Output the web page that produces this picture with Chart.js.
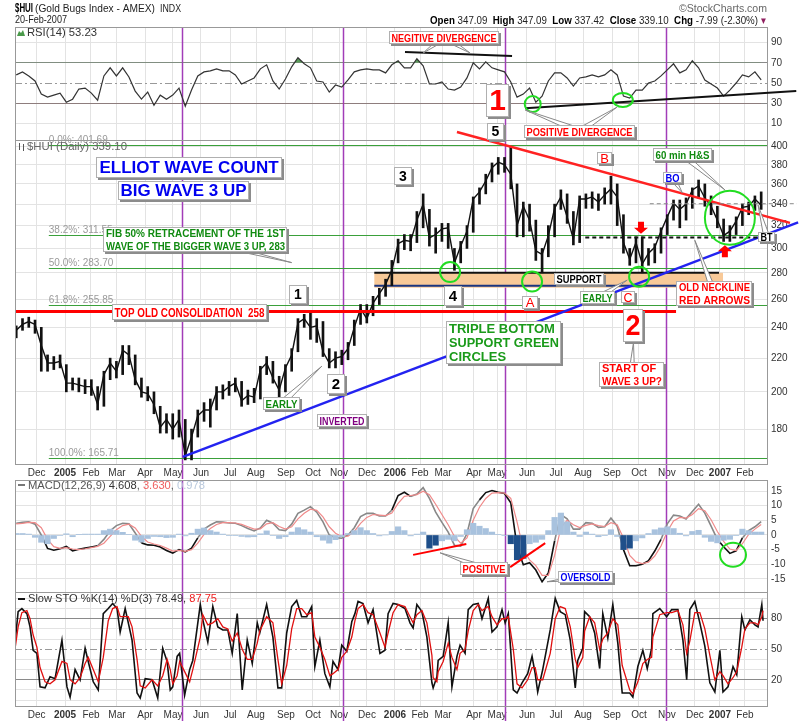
<!DOCTYPE html>
<html>
<head>
<meta charset="utf-8">
<script src="https://cdn.jsdelivr.net/npm/chart.js@4.4.1/dist/chart.umd.min.js"></script>
<style>
  body { margin: 0; background: #fff; }
  #wrap { position: relative; width: 800px; height: 721px; overflow: hidden; background: #fff; }
  #wrap canvas { position: absolute; left: 0; top: 0; }
</style>
</head>
<body>
<div id="wrap">
  <canvas id="rsiChart" width="800" height="721"></canvas>
  <canvas id="priceChart" width="800" height="721"></canvas>
  <canvas id="macdChart" width="800" height="721"></canvas>
  <canvas id="stoChart" width="800" height="721"></canvas>
</div>
<script>
const FONT = '"Liberation Sans", Arial, sans-serif';
const NARROW = '"Liberation Sans Narrow", "Liberation Sans", Arial, sans-serif';

// x axis counts weeks from Mon 8 Nov 2004 (week 119 = 20 Feb 2007)
const xMin = -0.2;
const xMax = 119.93;
const monthWeeks = [3.27, 7.79, 11.94, 16.09, 20.57, 25.04, 29.51, 34.15, 38.3, 43.09, 47.4, 51.56, 56.03, 60.5,
  64.5, 68.17, 73.12, 76.8, 81.59, 86.22, 90.54, 95.17, 99.48, 103.95, 108.42, 112.42, 116.4];
const monthLabels = ["Dec", "2005", "Feb", "Mar", "Apr", "May", "Jun", "Jul", "Aug", "Sep", "Oct", "Nov", "Dec", "2006",
  "Feb", "Mar", "Apr", "May", "Jun", "Jul", "Aug", "Sep", "Oct", "Nov", "Dec", "2007", "Feb"];
const yearLabels = ["2005", "2006", "2007"];
const cycleWeeks = [26.5, 52.2, 78.1, 103.8];

// weekly price bars
const priceClose = [238, 242, 244, 242, 228, 217, 217, 218, 205, 205,
  204, 203, 203, 193, 210, 217, 212, 225, 222, 207,
  200, 199, 193, 181, 185, 180, 185, 167, 176, 187,
  190, 190, 200, 200, 203, 205, 195, 198, 197, 213,
  217, 208, 201, 214, 222, 243, 246, 240, 241, 224,
  217, 220, 221, 226, 240, 253, 246, 257, 264, 271,
  282, 304, 307, 306, 325, 340, 309, 312, 317, 318,
  288, 302, 315, 345, 352, 363, 377, 383, 380, 370,
  320, 338, 325, 298, 295, 311, 336, 347, 328, 308,
  345, 345, 347, 342, 349, 355, 347, 305, 291, 305,
  287, 296, 301, 315, 328, 341, 335, 340, 354, 358,
  346, 338, 325, 311, 315, 324, 337, 338, 345, 339];
const priceHigh = [241, 246, 247, 245, 240, 222, 221, 222, 216, 208,
  208, 207, 207, 203, 212, 220, 218, 228, 228, 222,
  208, 203, 200, 192, 188, 188, 190, 185, 180, 190,
  194, 196, 203, 204, 206, 208, 206, 201, 202, 215,
  221, 218, 209, 216, 226, 246, 249, 251, 246, 244,
  226, 224, 225, 230, 245, 256, 256, 262, 268, 275,
  290, 308, 312, 312, 333, 350, 335, 318, 322, 322,
  300, 306, 320, 347, 356, 370, 382, 388, 388, 400,
  360, 342, 340, 325, 300, 320, 340, 354, 350, 333,
  348, 350, 352, 350, 356, 368, 360, 330, 300, 310,
  310, 300, 304, 318, 330, 344, 344, 346, 356, 364,
  360, 348, 338, 326, 320, 328, 340, 342, 348, 352];
const priceLow = [233, 238, 240, 236, 212, 212, 213, 214, 200, 201,
  200, 199, 198, 190, 192, 207, 208, 210, 216, 204,
  197, 195, 188, 178, 178, 175, 176, 165, 165, 176,
  184, 181, 190, 196, 198, 200, 192, 193, 194, 196,
  210, 205, 196, 200, 212, 224, 240, 232, 230, 221,
  214, 214, 216, 219, 228, 242, 243, 248, 256, 262,
  270, 288, 299, 298, 305, 318, 302, 296, 306, 300,
  282, 288, 300, 314, 340, 350, 362, 370, 372, 355,
  310, 310, 315, 290, 280, 293, 310, 335, 322, 303,
  305, 336, 336, 334, 340, 340, 320, 296, 286, 288,
  280, 286, 288, 296, 312, 325, 318, 325, 336, 346,
  338, 330, 318, 306, 306, 312, 320, 330, 334, 335];
const weekIndex = priceClose.map((_, i) => i);

const rsiValues = [58, 61, 57, 52, 39, 36, 38, 40, 31, 34,
  44, 45, 40, 33, 57, 65, 57, 65, 56, 42,
  34, 41, 28, 38, 34, 38, 45, 27, 43, 57,
  61, 62, 64, 62, 62, 58, 49, 52, 55, 64,
  68, 52, 44, 54, 66, 75, 69, 65, 52, 51,
  41, 48, 46, 53, 61, 63, 64, 63, 63, 60,
  68, 72, 65, 65, 74, 67, 49, 49, 51, 44,
  43, 46, 55, 70, 64, 71, 65, 63, 61, 51,
  36, 39, 45, 31, 37, 52, 60, 60, 55, 47,
  55, 56, 58, 56, 58, 63, 58, 37, 35, 43,
  43, 50, 52, 57, 63, 69, 60, 63, 72, 65,
  53, 49, 45, 37, 43, 50, 58, 56, 61, 53];

const macdValues = [4.0, 4.3, 4.5, 3.7, 0.0, -4.6, -5.2, -4.7, -3.9, -5.4,
  -4.9, -4.5, -4.1, -3.7, -1.5, 1.4, 3.2, 4.0, 3.8, 0.7,
  -2.7, -3.4, -3.5, -4.1, -5.3, -6.2, -5.0, -5.8, -4.5, -1.0,
  2.0, 3.4, 4.5, 4.4, 4.1, 4.0, 3.2, 2.2, 1.4, 2.4,
  5.0, 4.0, 1.8, 1.5, 3.7, 7.4, 8.5, 9.7, 7.8, 4.5,
  0.0, -0.9, -1.1, 0.0, 2.5, 6.3, 7.4, 7.4, 6.5, 6.5,
  8.5, 13.5, 14.6, 13.2, 14.0, 16.2, 12.5, 7.8, 4.3, 1.0,
  -3.5, -3.8, 0.5, 9.0, 12.0, 14.5, 15.2, 14.6, 14.2, 11.0,
  -4.0, -10.2, -9.5, -12.0, -16.0, -13.0, -2.0, 7.0, 5.5, 2.0,
  2.0, 4.2, 4.0, 2.6, 2.8, 5.8, 3.0, -5.0, -10.5, -10.5,
  -10.0, -8.8, -5.5, -1.5, 3.8, 6.8, 6.5, 5.5, 8.0, 10.5,
  7.5, 3.0, -1.5, -4.0, -6.3, -5.4, -1.0, 1.5, 2.8, 4.6];
const signalValues = [3.8, 4.0, 4.3, 4.2, 2.5, -1.5, -4.0, -4.6, -4.3, -4.8,
  -5.0, -4.7, -4.3, -3.9, -2.8, -0.5, 1.8, 3.2, 3.7, 2.4,
  -0.5, -2.4, -3.1, -3.6, -4.5, -5.5, -5.3, -5.6, -5.0, -2.8,
  0.2, 2.2, 3.6, 4.2, 4.2, 4.1, 3.6, 2.8, 2.0, 2.1,
  3.8, 4.2, 2.9, 2.0, 2.8, 5.5, 7.4, 8.8, 8.4, 6.2,
  2.8, 0.6, -0.5, -0.4, 1.2, 4.0, 6.0, 7.0, 6.8, 6.6,
  7.5, 10.8, 13.2, 13.5, 13.8, 15.0, 13.8, 10.5, 7.0, 3.5,
  -0.5, -2.8, -1.0, 5.0, 9.5, 12.5, 14.3, 14.5, 14.3, 12.5,
  4.5, -5.0, -8.5, -10.5, -13.8, -13.8, -7.0, 2.5, 5.0, 3.5,
  2.5, 3.3, 3.8, 3.2, 2.9, 4.2, 3.5, -1.0, -7.0, -9.2,
  -9.8, -9.3, -7.2, -3.8, 1.2, 4.8, 6.0, 5.8, 7.0, 9.0,
  8.3, 5.2, 1.2, -2.2, -4.8, -5.3, -3.0, 0.2, 2.0, 3.6];
const histValues = [0.5, 0.5, 0.3, -0.8, -2.5, -3.0, -1.2, -0.2, 0.4, -0.6,
  0.1, 0.3, 0.3, 0.3, 1.5, 2.0, 1.5, 0.9, 0.2, -1.8,
  -2.4, -1.2, -0.5, -0.6, -0.9, -0.8, 0.3, -0.3, 0.6, 2.0,
  2.4, 1.5, 1.0, 0.3, -0.1, -0.1, -0.5, -0.7, -0.6, 0.4,
  1.4, -0.2, -1.2, -0.6, 1.0, 2.5, 1.8, 1.0, -0.6, -1.8,
  -2.8, -1.6, -0.6, 0.5, 1.5, 2.5, 1.5, 0.5, -0.3, 0.0,
  1.2, 2.8, 1.5, -0.3, 0.3, 1.0, -4.5, -3.5, -2.0, -1.5,
  -2.0, -0.5, 1.8, 4.0, 3.0, 2.2, 1.0, 0.2, -0.2, -3.0,
  -8.5, -8.0, -3.0, -2.5, -1.5, 1.5, 6.0, 7.5, 4.5, 1.0,
  -0.5, 1.0, 0.3, -0.6, -0.1, 1.8, -0.5, -5.0, -4.5, -2.0,
  -1.0, 0.5, 1.8, 2.4, 2.8, 2.2, 0.6, -0.3, 1.2, 1.6,
  -0.8, -2.2, -2.7, -1.8, -1.5, -0.1, 2.0, 1.5, 1.0, 1.0];
const darkHistWeeks = [66, 67, 79, 80, 81, 97, 98];
const macdDarkSpans = [[4, 13], [20, 29], [60, 63], [74, 86], [97, 103], [112, 116]];

// slow stochastic, read at the turning points of the daily line
const stoDates = [-0.2, 0.3, 0.9, 1.7, 2.2, 2.7, 3.3, 3.8, 4.6, 5.4,
  6.2, 7.3, 8.1, 8.6, 9.4, 10.2, 11.0, 11.5, 12.3, 13.1,
  13.9, 14.7, 15.4, 16.1, 16.6, 17.4, 17.9, 18.5, 19.3, 19.8,
  20.6, 21.7, 22.6, 23.4, 24.1, 24.6, 25.0, 25.7, 26.1, 26.9,
  27.7, 28.2, 29.4, 29.8, 30.6, 31.4, 32.2, 33.0, 33.8, 34.5,
  35.3, 36.1, 36.9, 37.7, 38.5, 38.9, 40.0, 41.0, 41.8, 42.4,
  43.2, 44.0, 44.8, 45.6, 46.4, 47.2, 47.7, 48.5, 49.3, 50.1,
  50.6, 51.4, 52.0, 52.8, 53.6, 54.1, 54.6, 55.4, 56.2, 57.0,
  58.1, 58.9, 59.4, 60.2, 61.0, 62.1, 62.9, 63.4, 64.0, 64.8,
  65.6, 66.4, 66.6, 67.2, 67.4, 68.2, 69.0, 69.6, 70.4, 70.9,
  71.7, 72.2, 73.0, 73.8, 74.4, 75.4, 76.0, 76.8, 77.6, 78.1,
  78.6, 79.4, 80.0, 80.8, 81.7, 82.4, 82.9, 83.3, 84.1, 85.3,
  86.1, 86.9, 87.7, 88.5, 89.3, 89.7, 90.5, 90.8, 91.6, 92.4,
  93.2, 93.7, 94.5, 95.3, 96.1, 96.8, 98.0, 98.5, 99.3, 100.1,
  100.8, 101.5, 101.7, 102.8, 103.9, 104.7, 105.7, 106.5, 107.1, 107.6,
  108.4, 109.2, 110.0, 110.8, 111.6, 112.4, 112.9, 113.7, 114.5, 115.1,
  115.9, 116.4, 117.2, 118.0, 118.5, 119.1, 119.3];
const stoK = [56, 87, 90, 85, 72, 49, 46, 13, 12, 23,
  21, 59, 13, 3, 30, 20, 51, 38, 18, 10,
  85, 90, 95, 90, 67, 90, 76, 59, 7, 2,
  21, 20, 2, 51, 38, 10, 13, 43, 46, 5,
  30, 39, 94, 79, 57, 92, 72, 69, 69, 46,
  85, 10, 59, 36, 76, 66, 94, 62, 12, 12,
  66, 92, 98, 82, 82, 92, 33, 59, 26, 13,
  38, 30, 54, 48, 77, 85, 97, 95, 76, 89,
  46, 49, 85, 95, 94, 90, 76, 71, 94, 87,
  62, 17, 12, 23, 39, 43, 76, 13, 43, 54,
  46, 89, 94, 95, 80, 100, 67, 72, 89, 76,
  85, 10, 7, 17, 26, 43, 26, 8, 30, 69,
  100, 87, 84, 59, 12, 39, 51, 87, 82, 66,
  31, 85, 61, 94, 56, 7, 7, 3, 33, 49,
  31, 51, 85, 90, 82, 89, 89, 59, 20, 89,
  97, 76, 53, 17, 8, 49, 8, 13, 33, 25,
  82, 69, 79, 74, 72, 94, 78];
const stoD = [50, 72, 86, 88, 80, 64, 52, 32, 18, 16,
  20, 38, 36, 20, 16, 22, 36, 42, 30, 18,
  42, 78, 90, 92, 82, 82, 82, 72, 40, 14,
  12, 20, 14, 24, 40, 30, 16, 24, 38, 28,
  18, 30, 62, 84, 74, 76, 80, 72, 70, 58,
  66, 50, 40, 40, 56, 68, 82, 76, 40, 16,
  34, 70, 90, 90, 84, 86, 62, 52, 40, 24,
  26, 30, 42, 48, 62, 78, 90, 94, 86, 84,
  66, 52, 66, 86, 94, 92, 82, 76, 84, 88,
  76, 44, 22, 18, 28, 38, 56, 42, 30, 46,
  50, 68, 88, 94, 88, 92, 82, 74, 80, 80,
  82, 50, 16, 12, 20, 32, 32, 20, 20, 46,
  80, 92, 90, 72, 40, 32, 42, 68, 82, 76,
  50, 60, 66, 80, 74, 34, 10, 6, 18, 36,
  40, 42, 62, 84, 86, 86, 88, 74, 46, 58,
  86, 86, 70, 44, 20, 28, 24, 16, 22, 28,
  52, 70, 76, 76, 74, 82, 88];

const fibLevels = [401.69, 311.55, 283.7, 255.85, 165.71];
const fibLabels = ["0.0%: 401.69", "38.2%: 311.55", "50.0%: 283.70", "61.8%: 255.85", "100.0%: 165.71"];
const fibStartWeek = 5.2;

const rsiTicks = [10, 30, 50, 70, 90];
const priceTicks = [180, 200, 220, 240, 260, 280, 300, 320, 340, 360, 380, 400];
const macdTicks = [-15, -10, -5, 0, 5, 10, 15];
const stoGrid = [0, 10, 20, 30, 40, 50, 60, 70, 80, 90, 100];
const stoTicks = [20, 50, 80];

const pts = (xs, ys) => xs.map((x, i) => ({ x, y: ys[i] }));
const toPx = (chart, p) => ({ x: chart.scales.x.getPixelForValue(p[0]), y: chart.scales.y.getPixelForValue(p[1]) });

const xAxis = (showLabels) => ({
  type: "linear",
  min: xMin,
  max: xMax,
  offset: false,
  afterBuildTicks: (s) => { s.ticks = monthWeeks.map((value) => ({ value })); },
  afterFit: (s) => { s.height = showLabels ? 15 : 0; },
  grid: { color: "#e3e3e3", drawTicks: false, offset: false },
  border: { display: false },
  ticks: {
    display: showLabels,
    autoSkip: false,
    maxRotation: 0,
    padding: 3,
    color: "#333",
    font: (c) => ({ family: FONT, size: 10, weight: yearLabels.includes(monthLabels[c.index]) ? "bold" : "normal" }),
    callback: (v, i) => monthLabels[i],
  },
});

const yAxis = (o) => ({
  type: o.type || "linear",
  position: "right",
  min: o.min,
  max: o.max,
  afterBuildTicks: (s) => { s.ticks = o.grid.map((value) => ({ value })); },
  afterFit: (s) => { s.width = 33; },
  grid: {
    drawTicks: false,
    color: (c) => {
      const v = c.tick && c.tick.value;
      if ((o.hidden || []).includes(v)) return "rgba(0,0,0,0)";
      return (o.strong || []).includes(v) ? "#8a8a8a" : "#e3e3e3";
    },
  },
  border: { display: true, color: "#999" },
  ticks: {
    padding: 4,
    autoSkip: false,
    color: "#333",
    font: { family: FONT, size: 10 },
    callback: (v) => (o.labels.includes(v) ? String(v) : ""),
  },
});

const baseOptions = (top, bottom, x, y) => ({
  responsive: false,
  animation: false,
  devicePixelRatio: 1,
  events: [],
  layout: { padding: { left: 15, right: 0, top, bottom } },
  plugins: { legend: { display: false }, tooltip: { enabled: false } },
  scales: { x, y },
});

const drawPointer = (ctx, from, to) => {
  const dx = to.x - from.x;
  const dy = to.y - from.y;
  const len = Math.hypot(dx, dy) || 1;
  const nx = (-dy / len) * 3;
  const ny = (dx / len) * 3;
  ctx.beginPath();
  ctx.moveTo(from.x + nx, from.y + ny);
  ctx.lineTo(to.x, to.y);
  ctx.lineTo(from.x - nx, from.y - ny);
  ctx.closePath();
  ctx.fillStyle = "#fff";
  ctx.fill();
  ctx.strokeStyle = "#888";
  ctx.lineWidth = 1;
  ctx.stroke();
};

const drawNote = (ctx, c, n) => {
  const x = Math.round(c.x - n.bw / 2);
  const y = Math.round(c.y - n.bh / 2);
  ctx.fillStyle = "#8c8c8c";
  ctx.fillRect(x + 2, y + 2, n.bw, n.bh);
  ctx.fillStyle = "#fff";
  ctx.fillRect(x, y, n.bw, n.bh);
  ctx.strokeStyle = "#b0b0b0";
  ctx.lineWidth = 1;
  ctx.strokeRect(x + 0.5, y + 0.5, n.bw - 1, n.bh - 1);
  ctx.fillStyle = n.color;
  ctx.font = `${n.weight || "bold"} ${n.size}px ${n.narrow ? NARROW : FONT}`;
  ctx.textBaseline = "middle";
  ctx.textAlign = n.align === "left" ? "left" : "center";
  const lh = n.bh / n.lines.length;
  const tx = n.align === "left" ? x + 3 : x + n.bw / 2;
  n.lines.forEach((t, i) => ctx.fillText(t, tx, y + lh * (i + 0.5) + 1, n.bw - 5));
};

const drawArrow = (ctx, c, dir) => {
  const s = 6 * dir;
  ctx.beginPath();
  ctx.moveTo(c.x - 3, c.y - s);
  ctx.lineTo(c.x + 3, c.y - s);
  ctx.lineTo(c.x + 3, c.y);
  ctx.lineTo(c.x + 7, c.y);
  ctx.lineTo(c.x, c.y + s);
  ctx.lineTo(c.x - 7, c.y);
  ctx.lineTo(c.x - 3, c.y);
  ctx.closePath();
  ctx.fillStyle = "#f00";
  ctx.fill();
};

const drawMarkup = (chart, spec) => {
  const { ctx } = chart;
  const P = (p) => toPx(chart, p);
  (spec.lines || []).forEach((l) => {
    const a = P(l.from);
    const b = P(l.to);
    ctx.strokeStyle = l.color;
    ctx.lineWidth = l.width;
    ctx.setLineDash(l.dash || []);
    ctx.beginPath();
    ctx.moveTo(a.x, a.y);
    ctx.lineTo(b.x, b.y);
    ctx.stroke();
  });
  ctx.setLineDash([]);
  (spec.circles || []).forEach((c) => {
    const p = P(c.at);
    ctx.strokeStyle = "#22dd22";
    ctx.lineWidth = 2;
    ctx.beginPath();
    ctx.ellipse(p.x, p.y, c.rx, c.ry, 0, 0, Math.PI * 2);
    ctx.stroke();
  });
  (spec.arrows || []).forEach((a) => drawArrow(ctx, P(a.at), a.dir));
  (spec.notes || []).forEach((n) => (n.pointers || []).forEach((t) => drawPointer(ctx, P(n.at), P(t))));
  (spec.notes || []).forEach((n) => drawNote(ctx, P(n.at), n));
};

// text runs squeezed into a target width
const drawRuns = (ctx, x, y, runs, size, width) => {
  let total = 0;
  runs.forEach((r) => {
    ctx.font = `${r.bold ? "bold " : ""}${size}px ${FONT}`;
    total += ctx.measureText(r.text).width;
  });
  ctx.save();
  ctx.translate(x, y);
  ctx.scale(width ? width / total : 1, 1);
  ctx.textAlign = "left";
  ctx.textBaseline = "alphabetic";
  let cx = 0;
  runs.forEach((r) => {
    ctx.font = `${r.bold ? "bold " : ""}${size}px ${FONT}`;
    ctx.fillStyle = r.color || "#000";
    ctx.fillText(r.text, cx, 0);
    cx += ctx.measureText(r.text).width;
  });
  ctx.restore();
};

const panelPlugin = (cfg) => ({
  id: "panel",
  beforeDatasetsDraw(chart) {
    const { ctx, chartArea: a, scales } = chart;
    ctx.save();
    (cfg.dashLevels || []).forEach((v) => {
      const y = Math.round(scales.y.getPixelForValue(v)) + 0.5;
      ctx.strokeStyle = "#999";
      ctx.lineWidth = 1;
      ctx.setLineDash([7, 3, 2, 3]);
      ctx.beginPath();
      ctx.moveTo(a.left, y);
      ctx.lineTo(a.right, y);
      ctx.stroke();
    });
    ctx.setLineDash([]);
    cycleWeeks.forEach((w) => {
      const x = Math.round(scales.x.getPixelForValue(w)) + 0.5;
      ctx.strokeStyle = "#a23cb8";
      ctx.lineWidth = 1.5;
      ctx.beginPath();
      ctx.moveTo(x, a.top);
      ctx.lineTo(x, a.bottom + cfg.cycleExtra);
      ctx.stroke();
    });
    if (cfg.under) cfg.under(chart);
    ctx.restore();
  },
  afterDraw(chart) {
    const { ctx, chartArea: a } = chart;
    ctx.save();
    ctx.strokeStyle = "#999";
    ctx.lineWidth = 1;
    ctx.strokeRect(a.left + 0.5, a.top + 0.5, a.right - a.left, a.bottom - a.top);
    if (cfg.over) cfg.over(chart);
    ctx.restore();
  },
});

// ---------- RSI panel ----------
const rsiMarkup = {
  lines: [
    { from: [62.1, 80.7], to: [79.2, 76.7], color: "#111", width: 2 },
    { from: [81.3, 25.0], to: [124.6, 42.1], color: "#111", width: 2 },
  ],
  circles: [
    { at: [82.5, 29.2], rx: 8, ry: 8 },
    { at: [96.9, 33.2], rx: 10, ry: 7 },
  ],
  notes: [
    { at: [68.4, 95.0], bw: 110, bh: 13, lines: ["NEGITIVE DIVERGENCE"], color: "#f00", size: 11, narrow: true,
      pointers: [[65.0, 79.7], [72.5, 79.7]] },
    { at: [90.0, 2.5], bw: 111, bh: 13, lines: ["POSITIVE DIVERGENCE"], color: "#f00", size: 11, narrow: true,
      pointers: [[81.3, 23.3], [96.0, 26.2]] },
    { at: [76.9, 32.2], bw: 23, bh: 33, lines: ["1"], color: "#f00", size: 30 },
  ],
};

new Chart(document.getElementById("rsiChart"), {
  type: "line",
  data: {
    datasets: [
      { data: pts(weekIndex, rsiValues), borderColor: "#333", borderWidth: 1.2, pointRadius: 0,
        fill: { target: { value: 70 }, above: "#5a9e5a", below: "rgba(0,0,0,0)" } },
      { data: pts(weekIndex, rsiValues), borderWidth: 0, pointRadius: 0,
        fill: { target: { value: 30 }, above: "rgba(0,0,0,0)", below: "#a04848" } },
    ],
  },
  options: baseOptions(27, 581, xAxis(false),
    yAxis({ min: -6.4, max: 105.4, grid: rsiTicks, labels: rsiTicks, strong: [30, 70], hidden: [50] })),
  plugins: [panelPlugin({
    cycleExtra: 0,
    dashLevels: [50],
    over: (chart) => {
      const { ctx, chartArea: a } = chart;
      drawMarkup(chart, rsiMarkup);
      // page header
      drawRuns(ctx, 15, 12, [{ text: "$HUI", bold: true }], 13, 18);
      drawRuns(ctx, 35, 12, [{ text: "(Gold Bugs Index - AMEX)", color: "#222" }], 11, 120);
      drawRuns(ctx, 160, 12, [{ text: "INDX", color: "#222" }], 10, 21);
      drawRuns(ctx, 15, 23, [{ text: "20-Feb-2007", color: "#222" }], 11, 52);
      drawRuns(ctx, 679, 12, [{ text: "\u00a9StockCharts.com", color: "#666" }], 11, 88);
      drawRuns(ctx, 430, 24, [
        { text: "Open", bold: true }, { text: " 347.09  ", color: "#222" },
        { text: "High", bold: true }, { text: " 347.09  ", color: "#222" },
        { text: "Low", bold: true }, { text: " 337.42  ", color: "#222" },
        { text: "Close", bold: true }, { text: " 339.10  ", color: "#222" },
        { text: "Chg", bold: true }, { text: " -7.99 (-2.30%) ", color: "#222" },
        { text: "\u25be", color: "#902060" },
      ], 11, 336);
      // legend
      ctx.beginPath();
      ctx.moveTo(a.left + 2, a.top + 9);
      ctx.lineTo(a.left + 4, a.top + 4);
      ctx.lineTo(a.left + 6, a.top + 6);
      ctx.lineTo(a.left + 8, a.top + 3);
      ctx.lineTo(a.left + 10, a.top + 9);
      ctx.closePath();
      ctx.fillStyle = "#4a9a4a";
      ctx.fill();
      drawRuns(ctx, a.left + 12, a.top + 9, [{ text: "RSI(14) 53.23", color: "#333" }], 11, 70);
    },
  })],
});

// ---------- price panel ----------
const priceMarkup = {
  lines: [
    { from: [-0.04, 251], to: [105.4, 251], color: "#f00", width: 3 },
    { from: [70.4, 417], to: [123.6, 322.5], color: "#f22", width: 2.5 },
    { from: [26.6, 166.4], to: [124.9, 322.9], color: "#2323f0", width: 2.5 },
    { from: [90.9, 309.5], to: [118.8, 309.5], color: "#111", width: 2, dash: [4, 3] },
    { from: [101.2, 340.4], to: [124.7, 340.4], color: "#888", width: 1, dash: [4, 3] },
  ],
  circles: [
    { at: [69.3, 280.6], rx: 10, ry: 10 },
    { at: [82.4, 273.2], rx: 10, ry: 10 },
    { at: [99.5, 277.0], rx: 10, ry: 10 },
    { at: [114.0, 327.2], rx: 25, ry: 27 },
  ],
  arrows: [
    { at: [99.8, 318.1], dir: 1 },
    { at: [113.2, 297.7], dir: -1 },
  ],
  notes: [
    { at: [27.6, 377.2], bw: 186, bh: 21, lines: ["ELLIOT WAVE COUNT"], color: "#0000f0", size: 17 },
    { at: [26.7, 353.5], bw: 131, bh: 19, lines: ["BIG WAVE 3 UP"], color: "#0000f0", size: 17 },
    { at: [28.6, 308.0], bw: 184, bh: 25, lines: ["FIB 50% RETRACEMENT OF THE 1ST", "WAVE OF THE BIGGER WAVE 3 UP, 283"],
      color: "#108a10", size: 11, narrow: true, align: "left", pointers: [[44.0, 288.2]] },
    { at: [27.7, 250.7], bw: 155, bh: 16, lines: ["TOP OLD CONSOLIDATION  258"], color: "#f00", size: 13 },
    { at: [45.0, 263.4], bw: 18, bh: 19, lines: ["1"], color: "#000", size: 14 },
    { at: [51.1, 204.4], bw: 18, bh: 20, lines: ["2"], color: "#000", size: 15 },
    { at: [61.8, 368.3], bw: 18, bh: 18, lines: ["3"], color: "#000", size: 14 },
    { at: [69.8, 261.9], bw: 18, bh: 20, lines: ["4"], color: "#000", size: 15 },
    { at: [76.5, 418.1], bw: 17, bh: 17, lines: ["5"], color: "#000", size: 14 },
    { at: [82.1, 257.5], bw: 16, bh: 13, lines: ["A"], color: "#f00", size: 13, weight: "normal" },
    { at: [94.0, 386.9], bw: 15, bh: 12, lines: ["B"], color: "#f00", size: 13, weight: "normal" },
    { at: [97.7, 261.5], bw: 14, bh: 12, lines: ["C"], color: "#f00", size: 13, weight: "normal" },
    { at: [98.3, 209.9], bw: 65, bh: 25, lines: ["START OF", "WAVE 3 UP?"], color: "#f00", size: 11, narrow: true,
      align: "left", pointers: [[98.6, 230.0]] },
    { at: [98.5, 241.0], bw: 20, bh: 33, lines: ["2"], color: "#f00", size: 30 },
    { at: [89.9, 275.5], bw: 50, bh: 12, lines: ["SUPPORT"], color: "#000", size: 11, narrow: true },
    { at: [92.9, 260.9], bw: 35, bh: 13, lines: ["EARLY"], color: "#108a10", size: 11, narrow: true, pointers: [[97.6, 274.3]] },
    { at: [111.5, 264.1], bw: 76, bh: 25, lines: ["OLD NECKLINE", "RED ARROWS"], color: "#f00", size: 11, narrow: true,
      align: "left", pointers: [[108.4, 307.0]] },
    { at: [106.4, 391.3], bw: 59, bh: 13, lines: ["60 min H&S"], color: "#108a10", size: 11, narrow: true, pointers: [[113.2, 354.0]] },
    { at: [104.8, 366.2], bw: 19, bh: 11, lines: ["BO"], color: "#0000f0", size: 11, narrow: true, pointers: [[106.4, 351.1]] },
    { at: [119.9, 309.7], bw: 17, bh: 10, lines: ["BT"], color: "#000", size: 10, narrow: true, pointers: [[118.5, 339.1]] },
    { at: [77.8, 229.7], bw: 115, bh: 43, lines: ["TRIPLE BOTTOM", "SUPPORT GREEN", "CIRCLES"], color: "#1a9a1a", size: 13, align: "left" },
    { at: [42.4, 193.7], bw: 37, bh: 13, lines: ["EARLY"], color: "#108a10", size: 11, narrow: true, pointers: [[48.8, 215.0]] },
    { at: [52.0, 184.6], bw: 50, bh: 13, lines: ["INVERTED"], color: "#800080", size: 11, narrow: true },
  ],
};
const supportZone = { from: 57.2, to: 112.9, low: 270, high: 280 };

new Chart(document.getElementById("priceChart"), {
  type: "line",
  data: {
    datasets: [
      { type: "bar", data: weekIndex.map((w, i) => ({ x: w, y: [priceLow[i], priceHigh[i]] })),
        backgroundColor: "#111", barThickness: 2, grouped: false },
      { type: "line", data: pts(weekIndex, priceClose), borderColor: "#111", borderWidth: 1.4, pointRadius: 0, tension: 0 },
    ],
  },
  options: baseOptions(140, 242, xAxis(true),
    yAxis({ type: "logarithmic", min: 163.1, max: 407.6, grid: priceTicks, labels: priceTicks })),
  plugins: [panelPlugin({
    cycleExtra: 15,
    under: (chart) => {
      const { ctx, chartArea: a } = chart;
      const p1 = toPx(chart, [supportZone.from, supportZone.high]);
      const p2 = toPx(chart, [supportZone.to, supportZone.low]);
      ctx.fillStyle = "#f8c998";
      ctx.fillRect(p1.x, p1.y, p2.x - p1.x, p2.y - p1.y + 2);
      ctx.strokeStyle = "#111";
      ctx.lineWidth = 2;
      ctx.beginPath(); ctx.moveTo(p1.x, p1.y); ctx.lineTo(p2.x - 4, p1.y); ctx.stroke();
      ctx.strokeStyle = "#1a3580";
      ctx.beginPath(); ctx.moveTo(p1.x, p2.y); ctx.lineTo(p2.x, p2.y); ctx.stroke();
      fibLevels.forEach((lv, i) => {
        const p = toPx(chart, [fibStartWeek, lv]);
        const y = Math.round(p.y) + 0.5;
        ctx.strokeStyle = "#3aa03a";
        ctx.lineWidth = 1;
        ctx.beginPath(); ctx.moveTo(p.x, y); ctx.lineTo(a.right, y); ctx.stroke();
        ctx.fillStyle = "#9a9a9a";
        ctx.font = `10px ${FONT}`;
        ctx.textAlign = "left";
        ctx.textBaseline = "alphabetic";
        ctx.fillText(fibLabels[i], p.x, y - 3);
      });
    },
    over: (chart) => {
      const { ctx, chartArea: a } = chart;
      drawMarkup(chart, priceMarkup);
      ctx.strokeStyle = "#555";
      ctx.lineWidth = 1;
      ctx.beginPath();
      ctx.moveTo(a.left + 4.5, a.top + 3); ctx.lineTo(a.left + 4.5, a.top + 10);
      ctx.moveTo(a.left + 8.5, a.top + 4); ctx.lineTo(a.left + 8.5, a.top + 11);
      ctx.stroke();
      drawRuns(ctx, a.left + 12, a.top + 10, [{ text: "$HUI (Daily) 339.10", color: "#666" }], 11, 100);
    },
  })],
});

// ---------- MACD panel ----------
const macdMarkup = {
  lines: [
    { from: [63.4, -6.8], to: [71.9, -3.1], color: "#f00", width: 2 },
    { from: [78.9, -11.0], to: [84.5, -2.8], color: "#f00", width: 2 },
  ],
  circles: [{ at: [114.5, -6.8], rx: 13, ry: 12 }],
  notes: [
    { at: [74.7, -11.3], bw: 48, bh: 13, lines: ["POSITIVE"], color: "#f00", size: 11, narrow: true, pointers: [[67.7, -6.1]] },
    { at: [91.0, -14.4], bw: 55, bh: 12, lines: ["OVERSOLD"], color: "#0000f0", size: 11, narrow: true, pointers: [[84.8, -16.0]] },
  ],
};
const inDarkSpan = (i) => macdDarkSpans.some(([s, e]) => i >= s && i < e);

new Chart(document.getElementById("macdChart"), {
  type: "line",
  data: {
    datasets: [
      { type: "bar", data: pts(weekIndex, histValues), barThickness: 5.5, grouped: false,
        backgroundColor: weekIndex.map((w) => (darkHistWeeks.includes(w) ? "#1f4f8a" : "#a8c2de")) },
      { type: "line", data: pts(weekIndex, signalValues), borderColor: "#f08a8a", borderWidth: 1.2, pointRadius: 0 },
      { type: "line", data: pts(weekIndex, macdValues), borderWidth: 1.6, pointRadius: 0, borderColor: "#888",
        segment: { borderColor: (c) => (inDarkSpan(c.p0DataIndex) ? "#111" : "#888") } },
    ],
  },
  options: baseOptions(480, 129, xAxis(false),
    yAxis({ min: -19.5, max: 18.8, grid: macdTicks, labels: macdTicks })),
  plugins: [panelPlugin({
    cycleExtra: 0,
    over: (chart) => {
      const { ctx, chartArea: a } = chart;
      drawMarkup(chart, macdMarkup);
      ctx.strokeStyle = "#777";
      ctx.lineWidth = 2;
      ctx.beginPath(); ctx.moveTo(a.left + 3, a.top + 5); ctx.lineTo(a.left + 10, a.top + 5); ctx.stroke();
      drawRuns(ctx, a.left + 13, a.top + 8.5, [
        { text: "MACD(12,26,9) ", color: "#555" }, { text: "4.608", color: "#333" }, { text: ", ", color: "#555" },
        { text: "3.630", color: "#f06060" }, { text: ", ", color: "#555" }, { text: "0.978", color: "#b8c8dc" },
      ], 11, 177);
    },
  })],
});

// ---------- slow stochastic panel ----------
new Chart(document.getElementById("stoChart"), {
  type: "line",
  data: {
    datasets: [
      { data: pts(stoDates, stoD), borderColor: "#e01010", borderWidth: 1.3, pointRadius: 0 },
      { data: pts(stoDates, stoK), borderColor: "#111", borderWidth: 1.6, pointRadius: 0 },
    ],
  },
  options: baseOptions(592, 0, xAxis(true),
    yAxis({ min: -5.8, max: 106.3, grid: stoGrid, labels: stoTicks, strong: [20, 80], hidden: [50] })),
  plugins: [panelPlugin({
    cycleExtra: 15,
    dashLevels: [50],
    over: (chart) => {
      const { ctx, chartArea: a } = chart;
      ctx.strokeStyle = "#111";
      ctx.lineWidth = 2;
      ctx.beginPath(); ctx.moveTo(a.left + 3, a.top + 7); ctx.lineTo(a.left + 10, a.top + 7); ctx.stroke();
      drawRuns(ctx, a.left + 13, a.top + 10, [
        { text: "Slow STO %K(14) %D(3) 78.49, ", color: "#333" }, { text: "87.75", color: "#f02020" },
      ], 11, 189);
    },
  })],
});
</script>
</body>
</html>
